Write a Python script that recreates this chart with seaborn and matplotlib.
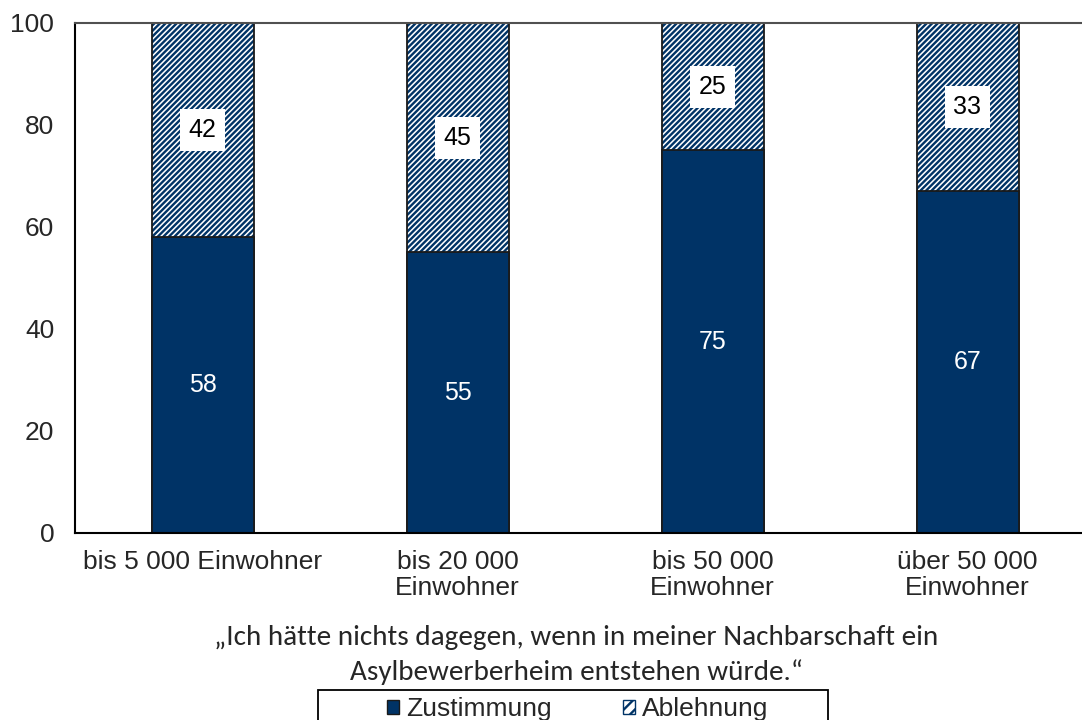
import matplotlib
matplotlib.use("Agg")
import matplotlib.pyplot as plt
from matplotlib.patches import Patch, Rectangle
import numpy as np
import pandas as pd
import seaborn as sns

categories = ["bis 5 000 Einwohner", "bis 20 000\nEinwohner", "bis 50 000\nEinwohner", "über 50 000\nEinwohner"]
zustimmung = [58, 55, 75, 67]
ablehnung = [42, 45, 25, 33]
caption_lines = ["„Ich hätte nichts dagegen, wenn in meiner Nachbarschaft ein",
                 "Asylbewerberheim entstehen würde.“"]

navy = "#003366"
edge = "#1a1a1a"

sns.set_theme(style="white")
plt.rcParams["font.family"] = ["Liberation Sans", "DejaVu Sans"]
plt.rcParams["hatch.linewidth"] = 1.7

data = pd.DataFrame({"kategorie": categories, "Zustimmung": zustimmung, "Ablehnung": ablehnung})
data["gesamt"] = data["Zustimmung"] + data["Ablehnung"]

fig = plt.figure(figsize=(10.82, 7.2), dpi=100)
ax = fig.add_axes([75 / 1082, 1 - 533 / 720, 1020 / 1082, 510 / 720])

# stacked: full bar hatched (Ablehnung), Zustimmung drawn over it
sns.barplot(data=data, x="kategorie", y="gesamt", color="white", width=0.4,
            edgecolor=navy, hatch="//////", linewidth=0, ax=ax, saturation=1)
sns.barplot(data=data, x="kategorie", y="gesamt", fill=False, width=0.4,
            edgecolor=edge, linewidth=1.3, ax=ax)
sns.barplot(data=data, x="kategorie", y="Zustimmung", color=navy, width=0.4,
            edgecolor=edge, linewidth=1.3, ax=ax, saturation=1)

for i in range(len(categories)):
    ax.text(i, zustimmung[i] / 2, str(zustimmung[i]), ha="center", va="center",
            color="white", fontsize=18)
    ax.text(i, zustimmung[i] + ablehnung[i] / 2, str(ablehnung[i]), ha="center", va="center",
            color="black", fontsize=18,
            bbox=dict(facecolor="white", edgecolor="none", boxstyle="square,pad=0.35"))

ax.set_ylim(0, 100)
ax.set_xlim(-0.5, 3.5)
ax.set_yticks([0, 20, 40, 60, 80, 100])
ax.set_xticks(np.arange(-0.5, 4, 1))
ax.set_xticklabels([])
ax.set_xticks(range(len(categories)), minor=True)
ax.set_xticklabels(categories, minor=True, fontsize=19, linespacing=1.12)
ax.tick_params(axis="x", which="minor", length=0, pad=12)
ax.tick_params(axis="x", which="major", length=6, width=1.2, direction="out", color="black")
ax.tick_params(axis="y", length=6, width=1.2, direction="out", color="black", labelsize=19, pad=9)
ax.set_xlabel("")
ax.set_ylabel("")
ax.spines["right"].set_visible(False)
ax.spines["top"].set_color("#505050")
ax.spines["top"].set_linewidth(1.5)
for s in ["left", "bottom"]:
    ax.spines[s].set_color("black")
    ax.spines[s].set_linewidth(1.5)

# caption, one line at a time on fixed baselines
for line, base in zip(caption_lines, [645, 680]):
    fig.text(576 / 1082, 1 - base / 720, line, ha="center", va="baseline", fontsize=21,
             family=["Carlito", "DejaVu Sans"])

handles = [Patch(facecolor=navy, edgecolor=edge, label="Zustimmung"),
           Patch(facecolor="white", edgecolor=navy, hatch="///", label="Ablehnung")]
leg = fig.legend(handles=handles, loc="upper center", bbox_to_anchor=(578 / 1082, 1 - 697 / 720), ncol=2,
                 frameon=False, fontsize=19, handlelength=0.45, handleheight=0.45,
                 handletextpad=0.27, columnspacing=2.7, borderpad=0, borderaxespad=0)
# legend frame runs past the lower edge of the picture
fig.patches.append(Rectangle((318 / 1082, -0.01), 510 / 1082, 0.01 + 30 / 720, transform=fig.transFigure,
                             fill=False, edgecolor="black", linewidth=1.3))

fig.savefig("out.png", dpi=100)
